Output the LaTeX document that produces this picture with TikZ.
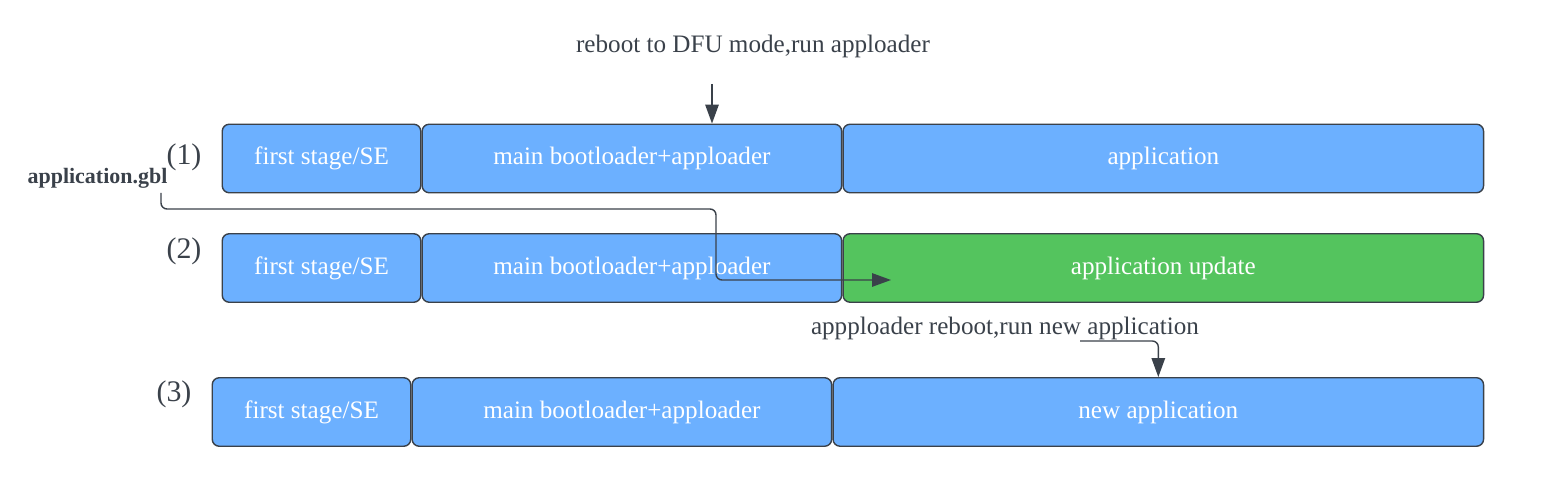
\documentclass[tikz,border=0pt]{standalone}
\usepackage{fontspec}
\setmainfont{Liberation Serif}
\usepackage{xcolor}
\usetikzlibrary{arrows.meta, positioning, calc}
\definecolor{boxblue}{HTML}{6CB0FF}
\definecolor{boxgreen}{HTML}{54C45E}
\definecolor{linegray}{HTML}{3A414A}

\begin{document}
\begin{tikzpicture}[
    node distance=0cm,
    box/.style={draw=linegray, line width=0.8pt, rounded corners=0.14cm, minimum height=1.37cm, inner sep=0pt, align=center, text=white, font=\fontsize{14.3}{16}\selectfont},
    lbl/.style={text=linegray, font=\fontsize{14.3}{16}\selectfont, inner sep=0pt},
    num/.style={text=linegray, font=\fontsize{17}{19}\selectfont, inner sep=0pt},
    arrow/.style={-{Triangle[length=0.38cm, width=0.27cm]}, draw=linegray, line width=0.8pt, rounded corners=0.12cm}
]
    \useasboundingbox (0,0) rectangle (31.26,9.62);

    % row (1)
    \node[box, fill=boxblue, minimum width=3.97cm] (first1) at (6.43,6.45) {first stage/SE};
    \node[box, fill=boxblue, minimum width=8.39cm, right=of first1] (main1) {main bootloader+apploader};
    \node[box, fill=boxblue, minimum width=12.81cm, right=of main1] (app1) {application};
    \node[num] (n1) at (3.68,6.48) {(1)};

    % row (2)
    \node[box, fill=boxblue, minimum width=3.97cm] (first2) at (6.43,4.26) {first stage/SE};
    \node[box, fill=boxblue, minimum width=8.39cm, right=of first2] (main2) {main bootloader+apploader};
    \node[box, fill=boxgreen, minimum width=12.81cm, right=of main2] (app2) {application update};
    \node[num] (n2) at (3.68,4.60) {(2)};

    % row (3)
    \node[box, fill=boxblue, minimum width=3.97cm] (first3) at (6.23,1.38) {first stage/SE};
    \node[box, fill=boxblue, minimum width=8.39cm, right=of first3] (main3) {main bootloader+apploader};
    \node[box, fill=boxblue, minimum width=13.01cm, right=of main3] (app3) {new application};
    \node[num] (n3) at (3.48,1.74) {(3)};

    % labels
    \node[lbl] (dfu) at (15.06,8.70) {reboot to DFU mode,run apploader};
    \node[lbl, font=\fontsize{12.5}{14}\selectfont\bfseries] (gbl) at (1.95,6.05) {application.gbl};
    \node[lbl] (reb) at (20.10,3.06) {appploader reboot,run new application};

    \coordinate (dfuout) at (14.24,7.94);
    \coordinate (gblout) at (3.22,5.76);
    \coordinate (gblbend) at (14.32,5.44);
    \coordinate (updin) at (17.82,4.02);
    \coordinate (rebout) at (21.60,2.80);

    \draw[arrow] (dfuout) -- (dfuout |- main1.north);
    \draw[arrow] (gblout) |- (gblbend) |- (updin);
    \draw[arrow] (rebout) -| (app3.north);
\end{tikzpicture}
\end{document}
